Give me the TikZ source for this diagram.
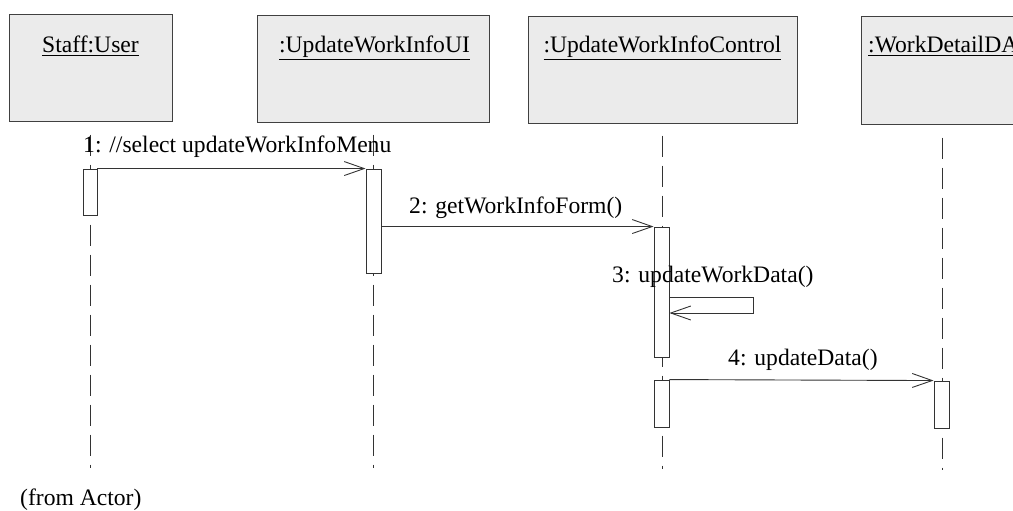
\documentclass[tikz,border=0pt]{standalone}
\usepackage{fontspec}
\setmainfont{Liberation Serif}
\usetikzlibrary{arrows.meta}
\tikzset{
  txt/.style={font=\fontsize{23.6}{28}\selectfont, inner sep=0pt, text=black},
  objbox/.style={draw=black!75, line width=1pt, fill=black!8, inner sep=0pt},
  actbox/.style={draw=black!80, line width=0.9pt, fill=white, inner sep=0pt, minimum width=15pt},
  lifeline/.style={draw=black!80, line width=0.9pt, dash pattern=on 21pt off 9pt},
  msg/.style={draw=black!80, line width=0.9pt, -{Straight Barb[length=20pt,width=14pt,line width=0.9pt]}},
}
\begin{document}
\begin{tikzpicture}[x=1pt,y=-1pt]
\useasboundingbox (0,0) rectangle (1013,511);
\clip (0,0) rectangle (1013,511);
% object boxes
\node[objbox, minimum width=163pt, minimum height=106pt] (staff) at (90.5,68) {};
\node[objbox, minimum width=232pt, minimum height=106pt] (ui) at (373,69) {};
\node[objbox, minimum width=269pt, minimum height=106pt] (ctrl) at (662.5,70) {};
\node[objbox, minimum width=170pt, minimum height=107pt] (dao) at (946,70.5) {};
\node[txt, anchor=base] (staffT) at (90.5,53) {\underline{Staff:User}};
\node[txt, anchor=base] (uiT) at (374.5,53) {\underline{:UpdateWorkInfoUI}};
\node[txt, anchor=base] (ctrlT) at (662.5,53) {\underline{:UpdateWorkInfoControl}};
\node[txt, anchor=base west] (daoT) at (868,53) {\underline{:WorkDetailDA}};
% lifeline ends
\coordinate (staffE) at (90,468);
\coordinate (uiE) at (373,468);
\coordinate (ctrlE) at (662,469);
\coordinate (daoE) at (942,470);
\draw[lifeline] (staff.south -| staffE) ++(0,13) -- (staffE);
\draw[lifeline] (ui.south -| uiE) ++(0,12) -- (uiE);
\draw[lifeline] (ctrl.south -| ctrlE) ++(0,12) -- (ctrlE);
\draw[lifeline] (dao.south -| daoE) ++(0,13) -- (daoE);
% activations
\node[actbox, minimum width=14pt, minimum height=46pt] (a1) at (90,192) {};
\node[actbox, minimum height=104pt] (a2) at (373.5,221) {};
\node[actbox, minimum height=130pt] (a3) at (661.5,292) {};
\node[actbox, minimum height=47pt] (a4) at (661.5,403.5) {};
\node[actbox, minimum height=47pt] (a5) at (941.5,404.5) {};
% messages
\draw[msg] (a1.north east) -- (a2.north west);
\node[txt, anchor=base west] (m1) at (83,153) {1: //select updateWorkInfoMenu};
\draw[msg] (a2.east |- a3.north) -- (a3.north west);
\node[txt, anchor=base west] (m2) at (409,213) {2: getWorkInfoForm()};
\coordinate (s1) at (753,297);
\coordinate (s2) at (753,313);
\draw[msg] (a3.east |- s1) -- (s1) -- (s2) -- (a3.east |- s2);
\node[txt, anchor=base west] (m3) at (612,282) {3: updateWorkData()};
\draw[msg] (a4.north east) -- (a5.north west);
\node[txt, anchor=base west] (m4) at (728,365) {4: updateData()};
\node[txt, anchor=base west] (from) at (20,505) {(from Actor)};
\end{tikzpicture}
\end{document}
